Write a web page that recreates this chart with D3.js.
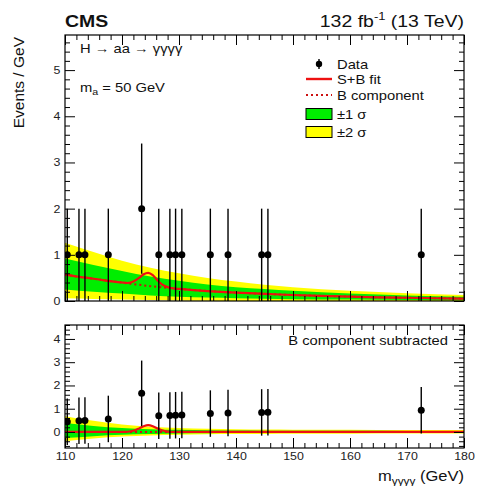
<!DOCTYPE html>
<html>
<head>
<meta charset="utf-8">
<script src="https://cdn.jsdelivr.net/npm/d3@7"></script>
<style>
  html, body { margin: 0; padding: 0; background: #fff; }
  svg { display: block; font-family: "Liberation Sans", Arial, Helvetica, sans-serif; }
</style>
</head>
<body>
<svg id="chart" width="481" height="486"></svg>
<script>
// ---- observed events ----
const dataMass   = [110.4, 112.45, 113.5, 117.6, 123.45, 126.45, 128.4, 129.4, 130.5, 135.5, 138.6, 144.5, 145.6, 172.5];
const dataEvents = [1, 1, 1, 1, 2, 1, 1, 1, 1, 1, 1, 1, 1, 1];
const dataErr    = [1, 1, 1, 1, 1.41, 1, 1, 1, 1, 1, 1, 1, 1, 1];
// events after removing the background component
const residual   = [0.44, 0.48, 0.49, 0.56, 1.66, 0.70, 0.71, 0.72, 0.73, 0.79, 0.81, 0.84, 0.85, 0.93];

// ---- fit curves ----
const fitMass = [110, 112, 114, 116, 118, 120, 121, 122, 123, 123.8, 124.6, 125.4, 126.2, 127, 128, 129, 130, 132, 135, 140, 145, 150, 155, 160, 165, 170, 175, 180];
const sbFit   = [0.57, 0.53, 0.50, 0.465, 0.43, 0.40, 0.39, 0.42, 0.50, 0.58, 0.61, 0.56, 0.45, 0.36, 0.30, 0.272, 0.262, 0.242, 0.215, 0.18, 0.155, 0.13, 0.11, 0.095, 0.08, 0.07, 0.06, 0.05];
const bComp   = [0.57, 0.53, 0.50, 0.465, 0.43, 0.40, 0.383, 0.367, 0.35, 0.338, 0.327, 0.316, 0.305, 0.295, 0.283, 0.272, 0.262, 0.242, 0.215, 0.18, 0.155, 0.13, 0.11, 0.095, 0.08, 0.07, 0.06, 0.05];
const sigOnly = [0, 0, 0, 0, 0, 0, 0.01, 0.05, 0.15, 0.245, 0.29, 0.245, 0.15, 0.07, 0.015, 0, 0, 0, 0, 0, 0, 0, 0, 0, 0, 0, 0, 0];

// ---- uncertainty bands, upper panel ----
const bandMass = [110, 115, 120, 125, 130, 135, 140, 145, 150, 160, 170, 180];
const topLo2 = [0.06, 0.045, 0.03, 0.02, 0.01, 0.005, 0, 0, 0, 0, 0, 0];
const topLo1 = [0.25, 0.20, 0.16, 0.12, 0.09, 0.075, 0.06, 0.05, 0.04, 0.03, 0.02, 0.015];
const topHi1 = [0.92, 0.78, 0.65, 0.53, 0.44, 0.36, 0.30, 0.26, 0.22, 0.16, 0.12, 0.09];
const topHi2 = [1.26, 1.06, 0.87, 0.72, 0.60, 0.50, 0.42, 0.35, 0.30, 0.22, 0.17, 0.13];

// ---- uncertainty bands, lower panel ----
const botLo2 = [-0.40, -0.28, -0.20, -0.15, -0.12, -0.10, -0.09, -0.085, -0.08, -0.075, -0.07, -0.07];
const botLo1 = [-0.26, -0.18, -0.12, -0.09, -0.07, -0.06, -0.05, -0.05, -0.045, -0.04, -0.04, -0.04];
const botHi1 = [0.38, 0.26, 0.17, 0.12, 0.09, 0.07, 0.06, 0.055, 0.05, 0.05, 0.04, 0.04];
const botHi2 = [0.68, 0.48, 0.32, 0.22, 0.17, 0.14, 0.12, 0.11, 0.10, 0.09, 0.08, 0.08];

// ---- axis ticks ----
const xMajor = [110, 120, 130, 140, 150, 160, 170, 180];
const topYMajor = [0, 1, 2, 3, 4, 5];
const botYMajor = [0, 1, 2, 3, 4];

const GREEN = "#00ee00", YELLOW = "#ffff00", RED = "#ee1111";
const SX = 1.18; // horizontal glyph stretch

const svg = d3.select("#chart");

const x = d3.scaleLinear().domain([110, 180]).range([65, 464]);
const yTop = d3.scaleLinear().domain([0, 5.76]).range([301, 35]);
const yBot = d3.scaleLinear().domain([-0.69, 4.6]).range([448, 325]);

const defs = svg.append("defs");
defs.append("clipPath").attr("id", "clipTop").append("rect")
  .attr("x", 65).attr("y", 35).attr("width", 399).attr("height", 266);
defs.append("clipPath").attr("id", "clipBot").append("rect")
  .attr("x", 65).attr("y", 325).attr("width", 399).attr("height", 123);

function text(g, px, py, size, anchor) {
  return g.append("text")
    .attr("transform", `translate(${px},${py}) scale(${SX},1)`)
    .attr("font-size", size)
    .attr("text-anchor", anchor || "start")
    .attr("fill", "#111");
}

function drawPanel(y, clipId, bands, curves, values, errs) {
  const g = svg.append("g").attr("clip-path", `url(#${clipId})`);
  const area = (lo, hi) => d3.area()
    .x((d, i) => x(bandMass[i]))
    .y0((d, i) => y(lo[i]))
    .y1((d, i) => y(hi[i]))
    .curve(d3.curveMonotoneX);
  g.append("path").datum(bandMass).attr("d", area(bands.lo2, bands.hi2)).attr("fill", YELLOW);
  g.append("path").datum(bandMass).attr("d", area(bands.lo1, bands.hi1)).attr("fill", GREEN);

  const line = (vals) => d3.line()
    .x((d, i) => x(fitMass[i]))
    .y((d, i) => y(vals[i]))
    .curve(d3.curveMonotoneX);
  g.append("path").datum(fitMass).attr("d", line(curves.b))
    .attr("fill", "none").attr("stroke", "#cc1111").attr("stroke-width", 2)
    .attr("stroke-dasharray", "2,3");
  g.append("path").datum(fitMass).attr("d", line(curves.sb))
    .attr("fill", "none").attr("stroke", RED).attr("stroke-width", 2.2);

  // data points with error bars
  const pts = g.append("g");
  dataMass.forEach((m, i) => {
    pts.append("line")
      .attr("x1", x(m)).attr("x2", x(m))
      .attr("y1", y(values[i] - errs[i])).attr("y2", y(values[i] + errs[i]))
      .attr("stroke", "#000").attr("stroke-width", 1.4);
    pts.append("circle")
      .attr("cx", x(m)).attr("cy", y(values[i])).attr("r", 3.5).attr("fill", "#000");
  });
}

function drawFrame(y, yMajor, minorStep, showXLabels) {
  const [y0, y1] = y.domain();
  const [bottom, top] = y.range();
  const g = svg.append("g");
  const xMinor = d3.range(110, 180.01, 2).filter(v => v % 10 !== 0);
  const yMinor = d3.range(Math.ceil(y0 / minorStep) * minorStep, y1 + 1e-9, minorStep)
    .map(v => +v.toFixed(3)).filter(v => Math.abs(v - Math.round(v)) > 1e-6);

  const styleAxis = sel => {
    sel.select(".domain").remove();
    sel.selectAll("line").attr("stroke", "#000").attr("stroke-width", 1);
  };
  // bottom
  g.append("g").attr("transform", `translate(0,${bottom})`)
    .call(d3.axisBottom(x).tickValues(xMajor).tickSize(-10).tickPadding(5)
      .tickFormat(showXLabels ? d3.format("d") : ""))
    .call(styleAxis)
    .call(s => s.selectAll("text").attr("font-size", 10.5).attr("fill", "#222")
      .attr("font-family", "Liberation Sans, Arial, sans-serif")
      .attr("transform", `scale(${SX},1)`));
  g.append("g").attr("transform", `translate(0,${bottom})`)
    .call(d3.axisBottom(x).tickValues(xMinor).tickSize(-5).tickFormat(""))
    .call(styleAxis);
  // top
  g.append("g").attr("transform", `translate(0,${top})`)
    .call(d3.axisTop(x).tickValues(xMajor).tickSize(-10).tickFormat(""))
    .call(styleAxis);
  g.append("g").attr("transform", `translate(0,${top})`)
    .call(d3.axisTop(x).tickValues(xMinor).tickSize(-5).tickFormat(""))
    .call(styleAxis);
  // left
  g.append("g").attr("transform", `translate(${x(110)},0)`)
    .call(d3.axisLeft(y).tickValues(yMajor).tickSize(-10).tickPadding(4).tickFormat(d3.format("d")))
    .call(styleAxis)
    .call(s => s.selectAll("text").attr("font-size", 10.5).attr("fill", "#222")
      .attr("font-family", "Liberation Sans, Arial, sans-serif")
      .attr("transform", `scale(${SX},1)`));
  g.append("g").attr("transform", `translate(${x(110)},0)`)
    .call(d3.axisLeft(y).tickValues(yMinor).tickSize(-5).tickFormat(""))
    .call(styleAxis);
  // right
  g.append("g").attr("transform", `translate(${x(180)},0)`)
    .call(d3.axisRight(y).tickValues(yMajor).tickSize(-10).tickFormat(""))
    .call(styleAxis);
  g.append("g").attr("transform", `translate(${x(180)},0)`)
    .call(d3.axisRight(y).tickValues(yMinor).tickSize(-5).tickFormat(""))
    .call(styleAxis);

  g.append("rect").attr("x", x(110)).attr("y", top)
    .attr("width", x(180) - x(110)).attr("height", bottom - top)
    .attr("fill", "none").attr("stroke", "#000").attr("stroke-width", 1.2);
}

// upper panel: fit to data
drawPanel(yTop, "clipTop",
  { lo2: topLo2, lo1: topLo1, hi1: topHi1, hi2: topHi2 },
  { sb: sbFit, b: bComp },
  dataEvents, dataErr);
drawFrame(yTop, topYMajor, 0.2, false);

// lower panel: background component subtracted
drawPanel(yBot, "clipBot",
  { lo2: botLo2, lo1: botLo1, hi1: botHi1, hi2: botHi2 },
  { sb: sigOnly, b: fitMass.map(() => 0) },
  residual, dataErr);
drawFrame(yBot, botYMajor, 0.2, true);

// ---- labels ----
const lab = svg.append("g");
text(lab, 65, 27, 16.5).attr("font-weight", "bold").text("CMS");
const lumi = text(lab, 464, 27, 16.5, "end");
lumi.append("tspan").text("132 fb");
lumi.append("tspan").attr("font-size", 11).attr("dy", -7).text("-1");
lumi.append("tspan").attr("dy", 7).text(" (13 TeV)");

svg.append("text")
  .attr("transform", "translate(24,37) rotate(-90)")
  .attr("text-anchor", "end").attr("font-size", 15.5).attr("fill", "#111")
  .text("Events / GeV");

text(lab, 80, 53, 12.5).text("H \u2192 aa \u2192 \u03b3\u03b3\u03b3\u03b3");
const ma = text(lab, 80, 92, 12.5);
ma.append("tspan").text("m");
ma.append("tspan").attr("font-size", 9).attr("dy", 3).text("a");
ma.append("tspan").attr("dy", -3).text(" = 50 GeV");

text(lab, 448, 345, 12.5, "end").text("B component subtracted");

const xt = text(lab, 464, 481, 14, "end");
xt.append("tspan").text("m");
xt.append("tspan").attr("font-size", 10).attr("dy", 4).text("\u03b3\u03b3\u03b3\u03b3");
xt.append("tspan").attr("dy", -4).text(" (GeV)");

// ---- legend ----
const leg = svg.append("g");
const legRows = [
  { y: 64, label: "Data", kind: "data" },
  { y: 79, label: "S+B fit", kind: "line" },
  { y: 95, label: "B component", kind: "dot" },
  { y: 114, label: "\u00b11 \u03c3", kind: "box", fill: GREEN },
  { y: 132, label: "\u00b12 \u03c3", kind: "box", fill: YELLOW }
];
legRows.forEach(r => {
  if (r.kind === "data") {
    leg.append("line").attr("x1", 319).attr("x2", 319).attr("y1", r.y - 5).attr("y2", r.y + 5)
      .attr("stroke", "#000").attr("stroke-width", 1.4);
    leg.append("circle").attr("cx", 319).attr("cy", r.y).attr("r", 3.2).attr("fill", "#000");
  } else if (r.kind === "line") {
    leg.append("line").attr("x1", 306).attr("x2", 332).attr("y1", r.y).attr("y2", r.y)
      .attr("stroke", RED).attr("stroke-width", 2.4);
  } else if (r.kind === "dot") {
    leg.append("line").attr("x1", 306).attr("x2", 332).attr("y1", r.y).attr("y2", r.y)
      .attr("stroke", "#cc1111").attr("stroke-width", 2).attr("stroke-dasharray", "2,3");
  } else {
    leg.append("rect").attr("x", 306).attr("y", r.y - 5.5).attr("width", 26).attr("height", 11)
      .attr("fill", r.fill).attr("stroke", "#000").attr("stroke-width", 1);
  }
  text(leg, 337, r.y + 4.5, 12.5).text(r.label);
});
</script>
</body>
</html>
